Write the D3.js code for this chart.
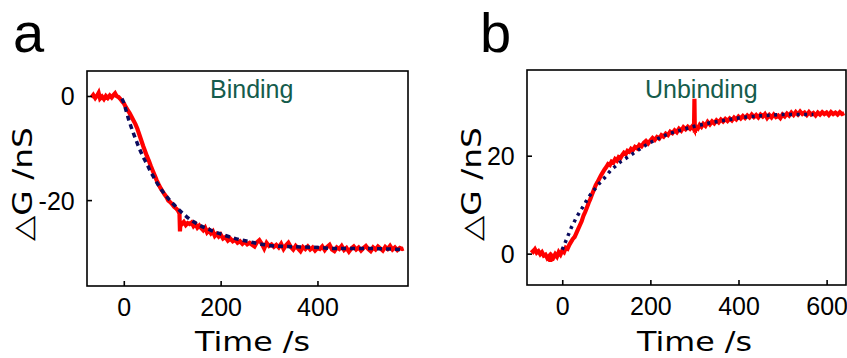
<!DOCTYPE html>
<html>
<head>
<meta charset="utf-8">
<script src="https://cdn.jsdelivr.net/npm/d3@7"></script>
<style>
  body { margin: 0; background: #fff; }
  svg { display: block; }
</style>
</head>
<body>
<svg id="graph" width="847" height="358"></svg>
<script>
// ---- data ----
// panel a : binding (measured trace, red)
var timeA = [-67,-63,-59,-55,-52,-49,-45,-41,-37,-33,-29,-25,-21,-18,-15,-11,-7,-3,0,4,8,12,16,20,24,28,32,36,40,44,48,52,56,60,64,68,72,76,80,84,88,92,96,100,104,108,112,115,116,117,120,124,128,132,136,140,144,148,152,156,160,164,168,172,176,180,184,188,192,196,200,205,210,215,220,225,230,235,240,245,250,255,260,265,270,275,280,285,290,295,300,305,310,315,320,325,330,335,340,345,350,355,360,365,370,375,380,385,390,395,400,405,410,415,420,425,430,435,440,445,450,455,460,465,470,475,480,485,490,495,500,505,510,515,520,525,530,535,540,545,550,555,560,565,570,575,578];
var gA = [-0.3,0.2,-0.4,0.1,0.6,-0.5,-0.1,-0.6,0.0,-0.4,0.1,-0.3,0.2,0.5,0.0,-0.2,-0.6,-1.1,-1.4,-2.1,-2.7,-3.3,-4.0,-4.7,-5.4,-6.3,-7.4,-8.5,-9.6,-10.6,-11.6,-12.5,-13.5,-14.4,-15.3,-16.2,-17.0,-17.7,-18.3,-18.9,-19.4,-20.1,-20.4,-20.8,-21.3,-21.6,-22.0,-22.6,-26.0,-24.3,-24.6,-24.2,-24.8,-24.4,-24.6,-24.3,-25.0,-24.6,-25.3,-24.9,-25.4,-25.8,-25.3,-26.2,-25.8,-26.4,-26.0,-26.9,-26.5,-27.0,-26.6,-27.4,-27.1,-27.8,-27.4,-27.9,-27.6,-28.2,-27.9,-28.4,-28.0,-28.5,-28.2,-28.6,-28.9,-28.1,-27.7,-28.4,-29.3,-28.2,-28.8,-28.5,-29.0,-28.6,-29.1,-28.4,-29.4,-28.7,-28.2,-29.0,-29.5,-28.8,-29.3,-29.8,-29.0,-29.4,-28.9,-29.5,-29.1,-29.7,-29.2,-29.4,-28.9,-29.6,-29.0,-28.6,-29.5,-29.8,-29.1,-29.4,-28.8,-29.6,-29.2,-29.9,-29.3,-28.9,-29.5,-29.1,-29.7,-29.2,-28.8,-29.4,-29.8,-29.1,-29.5,-28.9,-29.3,-29.7,-29.0,-29.4,-28.8,-29.5,-29.1,-29.6,-29.2,-29.4,-29.3];
// panel a : fit (dashed navy)
var fitTimeA = [-4,0,5,10,15,20,25,30,35,40,45,50,55,60,70,80,90,100,110,120,130,140,150,160,170,180,200,220,240,260,280,300,330,370,400,440,500,578];
var fitA = [-0.5,-1.3,-2.9,-4.5,-5.9,-7.2,-8.4,-9.6,-10.7,-11.7,-12.6,-13.5,-14.5,-15.3,-16.9,-18.3,-19.5,-20.5,-21.5,-22.4,-23.2,-23.9,-24.5,-25.0,-25.4,-25.8,-26.5,-27.1,-27.6,-28.0,-28.4,-28.7,-28.9,-29.0,-29.1,-29.3,-29.3,-29.5];

// panel b : unbinding (measured trace, red)
var timeB = [-70,-66,-62,-58,-54,-50,-46,-42,-38,-34,-30,-27,-24,-20,-16,-12,-8,-4,0,4,8,12,16,20,24,28,32,36,40,44,48,52,56,60,64,68,72,76,80,84,88,92,96,100,104,108,112,116,120,124,128,132,136,140,144,148,152,156,160,165,170,175,180,185,190,195,200,205,210,215,220,225,230,235,240,245,250,255,260,265,270,275,280,285,290,295,299,300,301,303,308,312,316,320,325,330,335,340,345,350,355,360,365,370,375,380,385,390,395,400,405,410,415,420,425,430,435,440,445,450,455,460,465,470,475,480,485,490,495,500,505,510,515,520,525,530,535,540,545,550,555,560,565,570,575,580,585,590,595,600,605,610,615,620,625,630,635,640];
var gB = [0.8,0.4,0.9,0.2,0.5,-0.1,0.3,-0.4,-0.2,-0.9,-0.5,-1.6,-0.4,-0.8,-0.1,-0.6,0.3,-0.2,0.6,0.3,1.2,1.0,1.8,2.4,3.0,3.4,4.2,5.0,5.8,6.6,7.7,8.5,9.4,10.4,11.2,12.2,13.1,14.0,14.6,15.3,16.0,16.6,17.2,17.7,18.3,18.1,18.8,18.6,19.3,19.0,19.7,19.5,20.1,20.6,20.3,21.0,20.8,21.4,21.1,21.8,21.5,22.2,21.9,22.6,23.0,22.5,23.1,23.6,23.2,23.8,23.5,24.2,23.9,24.5,24.2,24.9,24.6,25.2,24.8,25.5,25.1,25.8,25.4,25.9,25.5,26.0,25.4,31.6,24.7,26.0,25.6,26.3,25.9,26.5,26.1,26.9,26.4,27.0,26.6,27.2,26.8,27.4,27.0,27.5,27.1,27.6,27.2,27.8,27.4,28.0,27.6,28.1,27.7,28.2,27.8,28.4,27.9,28.3,27.8,28.4,28.0,28.5,27.7,28.3,27.8,28.4,27.9,28.2,27.7,28.4,28.0,28.6,28.2,28.8,28.3,28.9,28.4,29.0,28.5,28.8,28.3,28.9,28.4,28.7,28.2,28.8,28.4,28.9,28.5,28.8,28.3,28.9,28.5,28.8,28.4,28.9,28.5,28.7];
// panel b : fit (dotted navy)
var fitTimeB = [0,5,10,15,20,25,30,35,40,45,50,55,60,65,70,75,80,90,100,110,120,130,140,150,160,170,180,200,220,240,260,280,300,320,340,360,380,400,420,440,460,480,500,540,570];
var fitB = [0.8,1.9,3.0,4.1,5.2,6.1,7.0,7.8,8.6,9.3,10.0,10.8,11.5,12.2,12.8,13.3,13.9,14.9,15.9,17.0,17.8,18.6,19.2,19.8,20.4,21.0,21.6,22.7,23.6,24.4,25.0,25.5,26.0,26.4,26.8,27.1,27.4,27.7,27.9,28.1,28.2,28.3,28.4,28.4,28.4];

// ticks and labels
var ticksXA = [0, 200, 400];
var ticksYA = [0, -20];
var ticksXB = [0, 200, 400, 600];
var ticksYB = [0, 20];
var panelLetters = ["a", "b"];
var notes = ["Binding", "Unbinding"];
var xTitle = "Time /s";
var yTitle = "\u25B3G /nS";

var svg = d3.select("#graph");

function makePanel(opt)
{
  var scX = d3.scaleLinear().domain(opt.xDom).range([opt.left, opt.right]);
  var scY = d3.scaleLinear().domain(opt.yDom).range([opt.bottom, opt.top]);

  var g = svg.append("g");

  // measured trace
  var line = d3.line().x(d => scX(d[0])).y(d => scY(d[1]));
  g.append("path")
    .datum(d3.zip(opt.t, opt.v))
    .attr("d", line)
    .attr("fill", "none")
    .attr("stroke", "#ff0000")
    .attr("stroke-width", 4.2)
    .attr("stroke-linejoin", "miter");

  // fit curve
  var fline = d3.line().curve(d3.curveMonotoneX).x(d => scX(d[0])).y(d => scY(d[1]));
  g.append("path")
    .datum(d3.zip(opt.ft, opt.fv))
    .attr("d", fline)
    .attr("fill", "none")
    .attr("stroke", "#0b0b5e")
    .attr("stroke-width", 3.5)
    .attr("stroke-dasharray", opt.dash);

  // axes, ticks pointing inward; plain hyphen for negatives like the figure
  var fmt = d => String(d);
  var ax = d3.axisBottom(scX).tickValues(opt.xTicks).tickFormat(fmt).tickSizeInner(-5).tickSizeOuter(0).tickPadding(12);
  var ay = d3.axisLeft(scY).tickValues(opt.yTicks).tickFormat(fmt).tickSizeInner(-5).tickSizeOuter(0).tickPadding(11);

  var gx = g.append("g").attr("transform", `translate(0,${opt.bottom})`).call(ax);
  var gy = g.append("g").attr("transform", `translate(${opt.left},0)`).call(ay);
  [gx, gy].forEach(function(a) {
    a.select(".domain").remove();
    a.selectAll("line").attr("stroke", "#000").attr("stroke-width", 1.6);
    a.selectAll("text")
      .attr("fill", "#000")
      .style("font-family", "'Liberation Sans', Arial, sans-serif")
      .style("font-size", "25px");
  });
  gy.selectAll("text").attr("dx", "-0.05em").attr("dy", "0.36em");
  gx.selectAll("text").attr("dy", "0.72em");

  // frame
  g.append("rect")
    .attr("x", opt.left).attr("y", opt.top)
    .attr("width", opt.right - opt.left).attr("height", opt.bottom - opt.top)
    .attr("fill", "none").attr("stroke", "#000").attr("stroke-width", 1.6);

  // labels
  g.append("text")
    .attr("x", (opt.left + opt.right) / 2 + opt.xTitleShift).attr("y", 351)
    .attr("text-anchor", "middle")
    .attr("textLength", 115).attr("lengthAdjust", "spacingAndGlyphs")
    .style("font-family", "'DejaVu Sans', Verdana, sans-serif")
    .style("font-size", "27px")
    .text(xTitle);

  g.append("text")
    .attr("transform", `translate(${opt.yTitleX},184) rotate(-90)`)
    .attr("text-anchor", "middle")
    .attr("textLength", 114).attr("lengthAdjust", "spacingAndGlyphs")
    .style("font-family", "'DejaVu Sans', Verdana, sans-serif")
    .style("font-size", "26px")
    .text(yTitle);

  g.append("text")
    .attr("x", opt.letterX).attr("y", 52)
    .style("font-family", "'Liberation Sans', Arial, sans-serif")
    .style("font-size", "56px")
    .text(opt.letter);

  g.append("text")
    .attr("x", opt.noteX).attr("y", 98)
    .attr("fill", "#155c4c")
    .style("font-family", "'Liberation Sans', Arial, sans-serif")
    .style("font-size", "25px")
    .text(opt.note);
}

makePanel({
  left: 87, right: 408, top: 71, bottom: 286,
  xDom: [-76, 587], yDom: [-36.5, 4.8],
  t: timeA, v: gA, ft: fitTimeA, fv: fitA, dash: "5,4",
  xTicks: ticksXA, yTicks: ticksYA,
  xTitleShift: 5, yTitleX: 32,
  letter: panelLetters[0], letterX: 13,
  note: notes[0], noteX: 210
});

makePanel({
  left: 527, right: 846, top: 70, bottom: 285,
  xDom: [-80, 644], yDom: [-6.4, 37.5],
  t: timeB, v: gB, ft: fitTimeB, fv: fitB, dash: "3,4.5",
  xTicks: ticksXB, yTicks: ticksYB,
  xTitleShift: 8, yTitleX: 481,
  letter: panelLetters[1], letterX: 480,
  note: notes[1], noteX: 645
});
</script>
</body>
</html>
